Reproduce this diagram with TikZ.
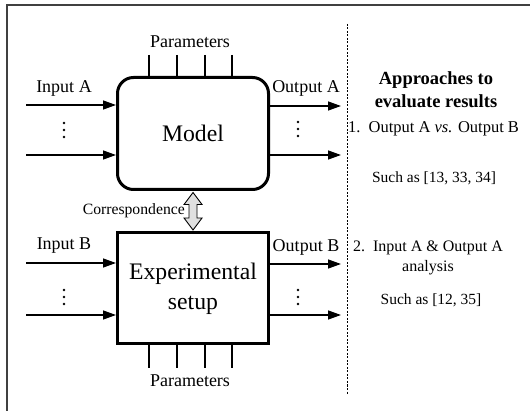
\documentclass[tikz,border=0pt]{standalone}
\usepackage{fontspec}
\setmainfont{Liberation Serif}
\usetikzlibrary{arrows.meta,calc}

\tikzset{
  lbl/.style={inner sep=0pt, font=\fontsize{18}{21}\selectfont},
  small/.style={inner sep=0pt, font=\fontsize{16.5}{20}\selectfont},
  block/.style={draw, line width=3pt, minimum width=151pt, inner sep=0pt,
    font=\fontsize{23.7}{30}\selectfont, align=center},
  arr/.style={line width=1.4pt, -{Triangle[length=13pt,width=9pt]}},
  tick/.style={line width=1.3pt},
  frame/.style={line width=1.5pt, draw=black!75},
  dotmark/.style={fill=black},
}

\begin{document}
\begin{tikzpicture}[x=1pt,y=-1pt]
\useasboundingbox (0,0) rectangle (530,411);

% outer frame (top and left edges only)
\draw[frame] (7,411) -- (7,5) -- (530,5);

% the two blocks
\node[block, rounded corners=16pt, minimum height=112pt] (model) at (193,133.5) {Model};
\node[block, minimum height=111pt] (exp) at (193,288.5) {Experimental\\setup};

% correspondence double arrow between the blocks
\coordinate (ct) at ($(model.south)+(0,1.5)$);
\coordinate (cb) at ($(exp.north)+(0,-1.5)$);
\filldraw[fill=black!12, line width=0.9pt, line join=miter]
  (ct) -- ++(9,12) -- ++(-5,0) -- ($(cb)+(4,-12)$) -- ++(5,0) -- (cb)
  -- ++(-9,-12) -- ++(5,0) -- ($(ct)+(-4,12)$) -- ++(-5,0) -- cycle;
\node[small, anchor=east, font=\fontsize{15.7}{18}\selectfont] (corr) at (185,211) {Correspondence};

% parameter ticks, top block
\foreach \x [count=\i] in {149,177,205,232} {
  \coordinate (pt\i) at (\x,55);
  \draw[tick] (pt\i) -- (pt\i |- model.north);
  \coordinate (pb\i) at (\x,368);
  \draw[tick] (pb\i) -- (pb\i |- exp.south);
}
\node[lbl] (parA) at (190,42) {Parameters};
\node[lbl] (parB) at (190,381) {Parameters};

% inputs and outputs of the model
\coordinate (ia1) at (26,105);
\coordinate (ia2) at (26,155);
\draw[arr] (ia1) -- (ia1 -| model.west);
\draw[arr] (ia2) -- (ia2 -| model.west);
\node[lbl] (inA) at (64,88) {Input A};
\coordinate (oa1) at (341,106);
\coordinate (oa2) at (341,155);
\draw[arr] (oa1 -| model.east) -- (oa1);
\draw[arr] (oa2 -| model.east) -- (oa2);
\node[lbl] (outA) at (306,88) {Output A};

% inputs and outputs of the experimental setup
\coordinate (ib1) at (26,263);
\coordinate (ib2) at (26,315);
\draw[arr] (ib1) -- (ib1 -| exp.west);
\draw[arr] (ib2) -- (ib2 -| exp.west);
\node[lbl] (inB) at (64,246) {Input B};
\coordinate (ob1) at (341,264);
\coordinate (ob2) at (341,315);
\draw[arr] (ob1 -| exp.east) -- (ob1);
\draw[arr] (ob2 -| exp.east) -- (ob2);
\node[lbl] (outB) at (306,247) {Output B};

% vertical ellipses between the arrows
\foreach \x/\y in {64/130, 298/129, 64/297, 298/297} {
  \foreach \d in {-7,0,7} \fill[dotmark] (\x,\y+\d) circle (1.4pt);
}

% divider
\draw[dashed, dash pattern=on 2pt off 1.5pt, line width=0.8pt] (347,24) -- (347,394);

% evaluation approaches
\node[inner sep=0pt, align=center, font=\bfseries\fontsize{18.5}{23}\selectfont]
  (title) at (436,89.5) {Approaches to\\evaluate results};
\node[small] (ap1) at (433.5,129) {1.\ \ Output A \textit{vs.} Output B};
\node[small, font=\fontsize{15.5}{18}\selectfont] (ref1) at (434,178) {Such as [13, 33, 34]};
\node[small, align=center, font=\fontsize{16}{20}\selectfont] (ap2) at (428,258) {2.\ \ Input A \& Output A\\analysis};
\node[small, font=\fontsize{15.5}{18}\selectfont] (ref2) at (431,300) {Such as [12, 35]};
\end{tikzpicture}
\end{document}
